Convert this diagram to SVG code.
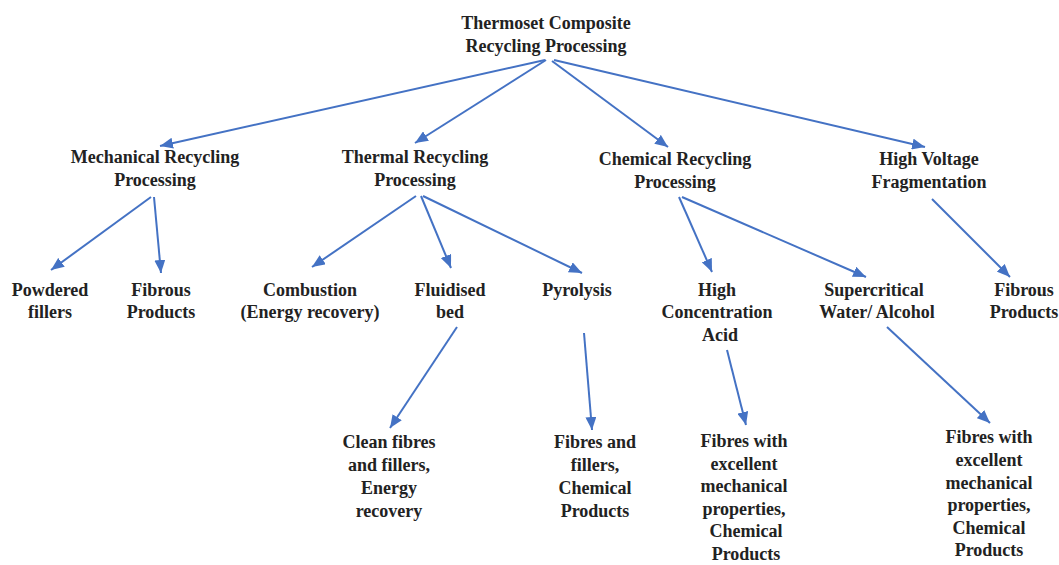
<svg xmlns="http://www.w3.org/2000/svg" width="1059" height="565" viewBox="0 0 1059 565">
  <defs>
    <marker id="arrow" markerUnits="userSpaceOnUse" markerWidth="13" markerHeight="11" refX="13" refY="5.5" orient="auto">
      <path d="M0,0 L13,5.5 L0,11 z" fill="#4472C4"/>
    </marker>
    <style>
      .lbl { font-weight: bold; font-size: 18px; fill: #222; text-anchor: middle; }
      .edge { stroke: #4472C4; stroke-width: 2; fill: none; marker-end: url(#arrow); }
    </style>
  </defs>
  <rect width="1059" height="565" fill="#fff"/>

  <g id="connectors">
    <line class="edge" x1="545" y1="60" x2="160" y2="146"/>
    <line class="edge" x1="546" y1="60" x2="415" y2="143"/>
    <line class="edge" x1="552" y1="61" x2="668" y2="147"/>
    <line class="edge" x1="554" y1="60" x2="925" y2="147"/>

    <line class="edge" x1="151" y1="197" x2="51" y2="270"/>
    <line class="edge" x1="154" y1="197" x2="161" y2="273"/>

    <line class="edge" x1="416" y1="196" x2="312" y2="267"/>
    <line class="edge" x1="421" y1="196" x2="451" y2="268"/>
    <line class="edge" x1="423" y1="196" x2="582" y2="273"/>

    <line class="edge" x1="679" y1="197" x2="712" y2="272"/>
    <line class="edge" x1="682" y1="197" x2="866" y2="277"/>

    <line class="edge" x1="932" y1="199" x2="1010" y2="277"/>

    <line class="edge" x1="457" y1="327" x2="390" y2="428"/>
    <line class="edge" x1="584" y1="333" x2="592" y2="430"/>
    <line class="edge" x1="727" y1="350" x2="746" y2="425"/>
    <line class="edge" x1="887" y1="327" x2="990" y2="423"/>
  </g>

  <g class="lbl" font-family="Liberation Serif, Times New Roman, DejaVu Serif, serif">
  <g id="root">
    <text x="546" y="29">Thermoset Composite</text>
    <text x="546" y="52">Recycling Processing</text>
  </g>

  <g id="mechanical">
    <text x="155" y="163">Mechanical Recycling</text>
    <text x="155" y="186">Processing</text>
  </g>
  <g id="thermal">
    <text x="415" y="163">Thermal Recycling</text>
    <text x="415" y="186">Processing</text>
  </g>
  <g id="chemical">
    <text x="675" y="165">Chemical Recycling</text>
    <text x="675" y="188">Processing</text>
  </g>
  <g id="high-voltage">
    <text x="929" y="165">High Voltage</text>
    <text x="929" y="188">Fragmentation</text>
  </g>

  <g id="powdered-fillers">
    <text x="50" y="296">Powdered</text>
    <text x="50" y="318">fillers</text>
  </g>
  <g id="fibrous-mech">
    <text x="161" y="296">Fibrous</text>
    <text x="161" y="318">Products</text>
  </g>
  <g id="combustion">
    <text x="310" y="296">Combustion</text>
    <text x="310" y="318">(Energy recovery)</text>
  </g>
  <g id="fluidised-bed">
    <text x="450" y="296">Fluidised</text>
    <text x="450" y="318">bed</text>
  </g>
  <g id="pyrolysis">
    <text x="577" y="296">Pyrolysis</text>
  </g>
  <g id="acid">
    <text x="717" y="296">High</text>
    <text x="717" y="318">Concentration</text>
    <text x="720" y="341">Acid</text>
  </g>
  <g id="supercritical">
    <text x="874" y="296">Supercritical</text>
    <text x="877" y="318">Water/ Alcohol</text>
  </g>
  <g id="fibrous-hv">
    <text x="1024" y="296">Fibrous</text>
    <text x="1024" y="318">Products</text>
  </g>

  <g id="clean-fibres">
    <text x="389" y="448">Clean fibres</text>
    <text x="389" y="471">and fillers,</text>
    <text x="389" y="494">Energy</text>
    <text x="389" y="517">recovery</text>
  </g>
  <g id="fibres-fillers">
    <text x="595" y="448">Fibres and</text>
    <text x="595" y="471">fillers,</text>
    <text x="595" y="494">Chemical</text>
    <text x="595" y="517">Products</text>
  </g>
  <g id="fibres-acid">
    <text x="744" y="447">Fibres with</text>
    <text x="744" y="470">excellent</text>
    <text x="744" y="492">mechanical</text>
    <text x="744" y="515">properties,</text>
    <text x="746" y="537">Chemical</text>
    <text x="746" y="560">Products</text>
  </g>
  <g id="fibres-supercritical">
    <text x="989" y="443">Fibres with</text>
    <text x="989" y="466">excellent</text>
    <text x="989" y="489">mechanical</text>
    <text x="989" y="511">properties,</text>
    <text x="989" y="534">Chemical</text>
    <text x="989" y="556">Products</text>
  </g>
  </g>
</svg>
